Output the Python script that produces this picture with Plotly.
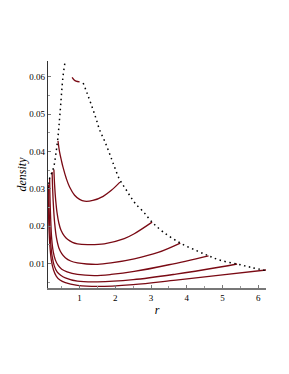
import plotly.graph_objects as go

# Family of density curves (r, density)
c1_r = [0.79, 0.84, 0.90, 1.00]
c1_d = [0.0598, 0.0592, 0.0588, 0.0586]

c2_r = [0.395, 0.44, 0.49, 0.535, 0.63, 0.72, 0.86, 1.00, 1.14, 1.37, 1.66, 1.89, 2.13]
c2_d = [0.0428, 0.0398, 0.0376, 0.0358, 0.0327, 0.0305, 0.0283, 0.0272, 0.0267, 0.0269, 0.0280, 0.0296, 0.0318]

c3_r = [0.28, 0.30, 0.33, 0.37, 0.42, 0.48, 0.57, 0.66, 0.80, 0.94, 1.22, 1.69, 2.25, 2.53, 3.03]
c3_d = [0.0352, 0.0310, 0.0270, 0.0235, 0.0208, 0.0189, 0.0174, 0.0165, 0.0157, 0.0153, 0.0151, 0.0153, 0.0167, 0.0180, 0.0211]

c4_r = [0.23, 0.245, 0.27, 0.30, 0.35, 0.42, 0.50, 0.60, 0.75, 0.94, 1.20, 1.50, 1.88, 2.53, 3.20, 3.82]
c4_d = [0.0345, 0.0300, 0.0250, 0.0210, 0.0170, 0.0142, 0.0127, 0.0116, 0.0107, 0.0102, 0.0099, 0.0098, 0.0102, 0.0113, 0.0130, 0.0155]

c5_r = [0.16, 0.17, 0.19, 0.22, 0.26, 0.32, 0.40, 0.50, 0.65, 0.94, 1.41, 1.88, 2.53, 3.50, 4.61]
c5_d = [0.0328, 0.0280, 0.0220, 0.0165, 0.0133, 0.0110, 0.0095, 0.0085, 0.0078, 0.0071, 0.0068, 0.0071, 0.0079, 0.0097, 0.0121]

c6_r = [0.13, 0.14, 0.16, 0.19, 0.23, 0.29, 0.37, 0.47, 0.60, 0.94, 1.50, 2.50, 3.70, 4.94, 5.41]
c6_d = [0.0312, 0.0270, 0.0210, 0.0155, 0.0120, 0.0094, 0.0078, 0.0069, 0.0062, 0.0053, 0.0051, 0.0057, 0.0072, 0.0091, 0.0099]

c7_r = [0.115, 0.125, 0.14, 0.17, 0.21, 0.27, 0.35, 0.45, 0.60, 0.94, 1.50, 2.50, 3.70, 4.94, 6.23]
c7_d = [0.0300, 0.0260, 0.0200, 0.0145, 0.0108, 0.0083, 0.0066, 0.0056, 0.0049, 0.0042, 0.0039, 0.0044, 0.0056, 0.0069, 0.0083]

# Dotted envelope (two branches)
envL_r = [0.115, 0.13, 0.16, 0.23, 0.28, 0.33, 0.39, 0.45, 0.535, 0.60, 0.62]
envL_d = [0.0300, 0.0312, 0.0328, 0.0345, 0.0360, 0.0390, 0.0435, 0.0500, 0.0600, 0.0645, 0.0660]

envR_r = [1.10, 1.21, 1.35, 1.46, 1.56, 1.70, 1.84, 1.98, 2.12, 2.26, 2.40, 2.55, 2.79, 3.03, 3.35, 3.82, 4.29, 4.61, 4.94, 5.41, 5.80, 6.23]
envR_d = [0.0583, 0.0556, 0.0519, 0.0488, 0.0458, 0.0428, 0.0394, 0.0358, 0.0325, 0.0304, 0.0283, 0.0262, 0.0238, 0.0211, 0.0184, 0.0155, 0.0134, 0.0121, 0.0109, 0.0099, 0.0090, 0.0081]

x_ticks = [1, 2, 3, 4, 5, 6]
y_ticks = [0.01, 0.02, 0.03, 0.04, 0.05, 0.06]
y_labels = ["0.01", "0.02", "0.03", "0.04", "0.05", "0.06"]

RED = "#7a0a14"
fig = go.Figure()
for rr, dd in [(c1_r, c1_d), (c2_r, c2_d), (c3_r, c3_d), (c4_r, c4_d),
               (c5_r, c5_d), (c6_r, c6_d), (c7_r, c7_d)]:
    fig.add_trace(go.Scatter(x=rr, y=dd, mode="lines",
                             line=dict(color=RED, width=1.3, shape="spline", smoothing=1.0),
                             showlegend=False, hoverinfo="skip"))
for rr, dd in [(envL_r, envL_d), (envR_r, envR_d)]:
    fig.add_trace(go.Scatter(x=rr, y=dd, mode="lines",
                             line=dict(color="black", width=1.5, dash="1.5px,3.5px", shape="spline", smoothing=1.0),
                             showlegend=False, hoverinfo="skip"))

font = dict(family="Liberation Serif, Times New Roman, serif", color="black")
# page body has an 8px margin, so the figure is drawn 8px in from the top-left corner
fig.update_layout(
    width=281, height=366,
    margin=dict(l=40, r=23, t=53, b=86, autoexpand=False),
    paper_bgcolor="white", plot_bgcolor="white",
    font=dict(size=9, **font),
    xaxis=dict(range=[0.115, 6.22], tickvals=x_ticks, ticktext=[str(v) for v in x_ticks],
               ticks="inside", ticklen=3, tickcolor="#777", showgrid=False, zeroline=False,
               showline=True, linecolor="#777", linewidth=1.5, automargin=False,
               minor=dict(tickvals=[0.5, 1.5, 2.5, 3.5, 4.5, 5.5], ticks="inside", ticklen=2, tickcolor="#999"),
               tickfont=dict(size=9, **font),
               title=dict(text="<i>r</i>", font=dict(size=12, **font), standoff=4)),
    yaxis=dict(range=[0.00348, 0.0642], tickvals=y_ticks, ticktext=y_labels,
               ticks="inside", ticklen=3, tickcolor="#777", showgrid=False, zeroline=False,
               showline=True, linecolor="#333", linewidth=1.2, automargin=False,
               minor=dict(tickvals=[0.005, 0.015, 0.025, 0.035, 0.045, 0.055], ticks="inside", ticklen=2, tickcolor="#999"),
               tickfont=dict(size=9, **font),
               title=dict(text="<i>density</i>", font=dict(size=12, **font), standoff=0)),
)
fig.write_html("out.html")
